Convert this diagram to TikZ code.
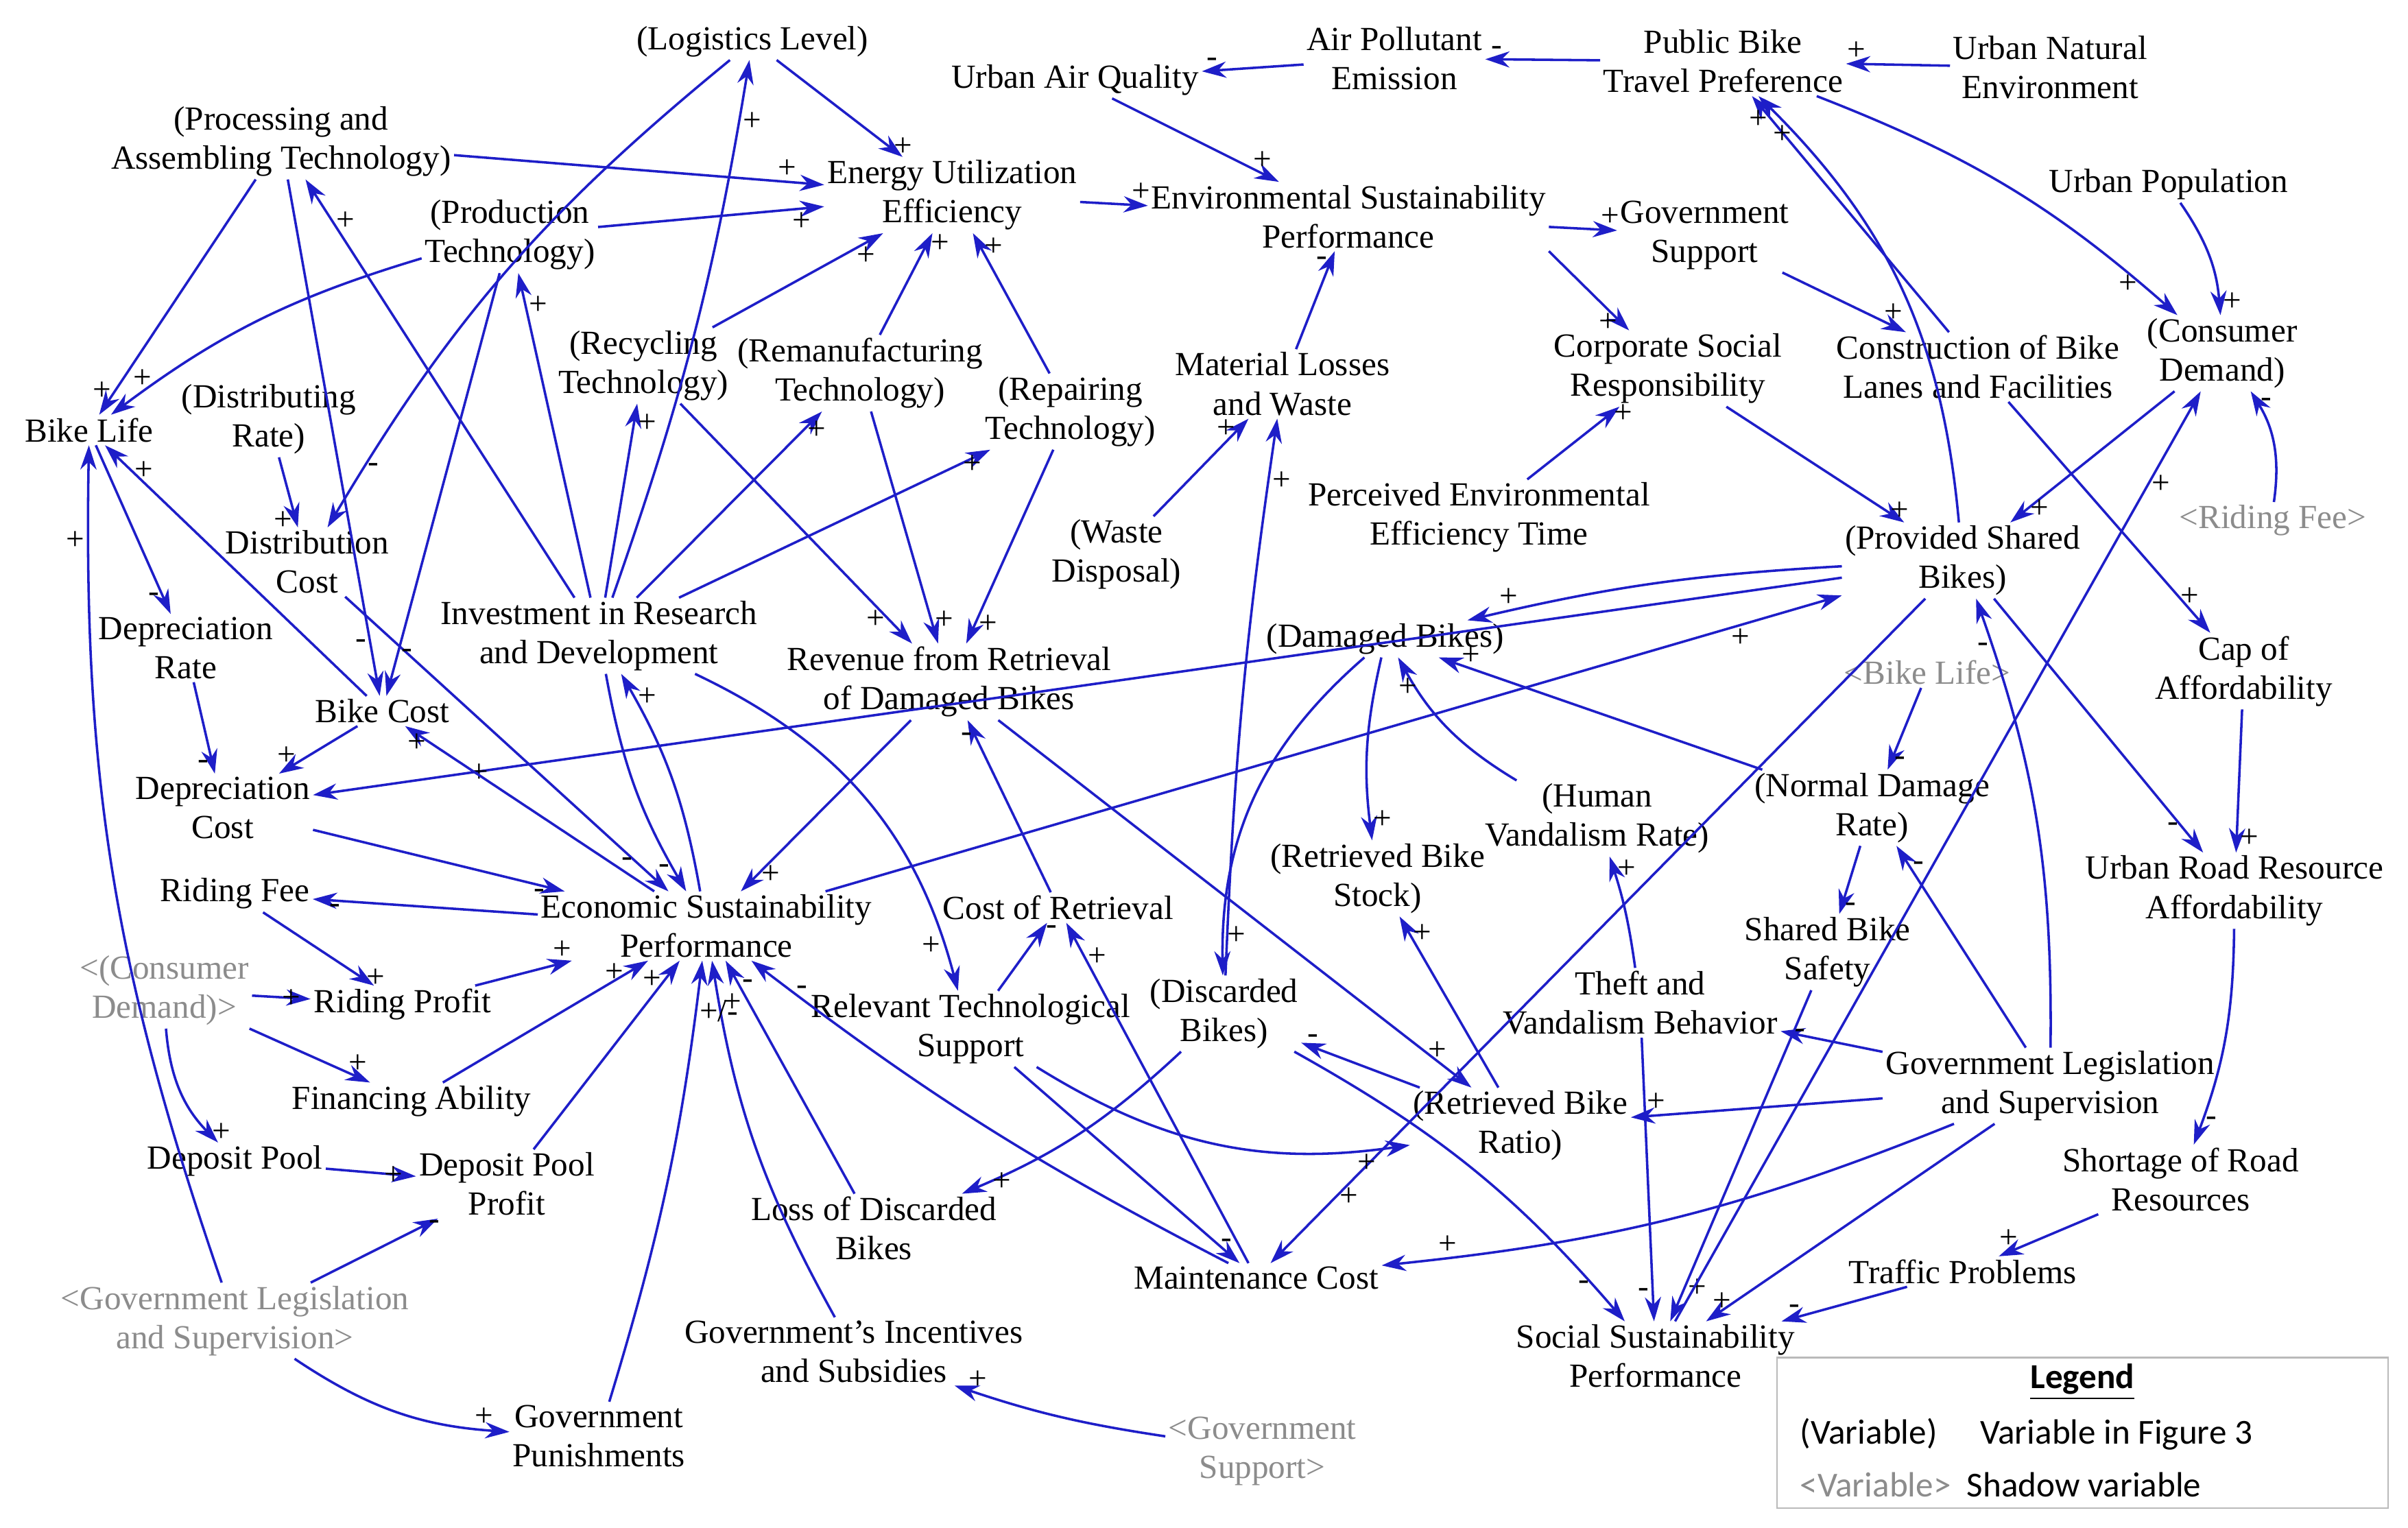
\documentclass[tikz,border=0pt]{standalone}
\usepackage{fontspec}
\setmainfont{Liberation Serif}
\newfontfamily\legf{Carlito}
\usetikzlibrary{arrows.meta}
\definecolor{ab}{RGB}{30,30,200}
\definecolor{sh}{RGB}{140,140,140}
\begin{document}
\begin{tikzpicture}[x=0.2mm,y=-0.2mm,
 v/.style={align=center,font=\fontsize{12.5}{14.5}\selectfont,inner sep=1pt},
 s/.style={v,text=sh},
 a/.style={draw=ab,line width=0.9pt,-{Stealth[length=9pt,width=6pt]}},
 sg/.style={font=\fontsize{12}{12}\selectfont,inner sep=1pt,pos=.9}]
\useasboundingbox (0,0) rectangle (1568,995);
\fill[white] (0,0) rectangle (1568,995);
% nodes
\node[v] (LL) at (490,27) {(Logistics Level)};
\node[v] (PAT) at (183,92) {(Processing and\\Assembling Technology)};
\node[v] (EUE) at (620,127) {Energy Utilization\\Efficiency};
\node[v] (UAQ) at (700,52) {Urban Air Quality};
\node[v] (APE) at (908,38) {Air Pollutant\\Emission};
\node[v] (PBTP) at (1122,40) {Public Bike\\Travel Preference};
\node[v] (UNE) at (1335,44) {Urban Natural\\Environment};
\node[v] (ESP) at (878,141) {Environmental Sustainability\\Performance};
\node[v] (GS) at (1110,153) {Government\\Support};
\node[v] (UP) at (1412,120) {Urban Population};
\node[v] (PT) at (332,153) {(Production\\Technology)};
\node[v] (CD) at (1447,230) {(Consumer\\Demand)};
\node[v] (CBLF) at (1288,239) {Construction of Bike\\Lanes and Facilities};
\node[v] (CSR) at (1086,240) {Corporate Social\\Responsibility};
\node[v] (MLW) at (835,250) {Material Losses\\and Waste};
\node[v] (RT) at (419,238) {(Recycling\\Technology)};
\node[v] (RMT) at (560,243) {(Remanufacturing\\Technology)};
\node[v] (RPT) at (697,268) {(Repairing\\Technology)};
\node[v] (BL) at (58,280) {Bike Life};
\node[v] (DR) at (175,273) {(Distributing\\Rate)};
\node[v] (DC) at (200,366) {Distribution\\Cost};
\node[v] (PEET) at (963,337) {Perceived Environmental\\Efficiency Time};
\node[s] (RFs) at (1480,339) {<Riding Fee>};
\node[v] (PSB) at (1278,365) {(Provided Shared\\Bikes)};
\node[v] (WD) at (727,361) {(Waste\\Disposal)};
\node[v] (DepR) at (121,422) {Depreciation\\Rate};
\node[v] (IRD) at (390,414) {Investment in Research\\and Development};
\node[v] (RRDB) at (618,444) {Revenue from Retrieval\\of Damaged Bikes};
\node[v] (DB) at (902,416) {(Damaged Bikes)};
\node[s] (BLs) at (1255,438) {<Bike Life>};
\node[v] (CoA) at (1461,437) {Cap of\\Affordability};
\node[v] (BC) at (249,463) {Bike Cost};
\node[v] (DepC) at (145,526) {Depreciation\\Cost};
\node[v] (HVR) at (1040,533) {(Human\\Vandalism Rate)};
\node[v] (NDR) at (1219,526) {(Normal Damage\\Rate)};
\node[v] (RBS) at (897,572) {(Retrieved Bike\\Stock)};
\node[v] (URRA) at (1455,580) {Urban Road Resource\\Affordability};
\node[v] (RidF) at (153,582) {Riding Fee};
\node[v] (ESuP) at (460,603) {Economic Sustainability\\Performance};
\node[v] (CR) at (689,591) {Cost of Retrieval};
\node[v] (SBS) at (1190,620) {Shared Bike\\Safety};
\node[s] (CDs) at (107,645) {<(Consumer\\Demand)>};
\node[v] (RP) at (262,654) {Riding Profit};
\node[v] (RTS) at (632,670) {Relevant Technological\\Support};
\node[v] (DiB) at (797,660) {(Discarded\\Bikes)};
\node[v] (TVB) at (1068,653) {Theft and\\Vandalism Behavior};
\node[v] (GLS) at (1335,707) {Government Legislation\\and Supervision};
\node[v] (FA) at (268,717) {Financing Ability};
\node[v] (RBR) at (990,733) {(Retrieved Bike\\Ratio)};
\node[v] (DP) at (153,756) {Deposit Pool};
\node[v] (DPP) at (330,771) {Deposit Pool\\Profit};
\node[v] (SRR) at (1420,768) {Shortage of Road\\Resources};
\node[v] (LDB) at (569,800) {Loss of Discarded\\Bikes};
\node[v] (MC) at (818,832) {Maintenance Cost};
\node[v] (TP) at (1278,828) {Traffic Problems};
\node[s] (GLSs) at (153,860) {<Government Legislation\\and Supervision>};
\node[v] (GIS) at (556,880) {Government's Incentives\\and Subsidies};
\node[v] (SSP) at (1078,883) {Social Sustainability\\Performance};
\node[v] (GP) at (390,935) {Government\\Punishments};
\node[s] (GSs) at (822,945) {<Government\\Support>};
% legend
\draw[sh!60,line width=0.6pt] (1157,884) rectangle (1555,982);
\node[font=\legf\fontsize{13}{15}\selectfont\bfseries] (LG) at (1356,900) {\underline{Legend}};
\node[font=\legf\fontsize{13}{15}\selectfont,anchor=west] (L1) at (1166,934) {(Variable)\quad\ Variable in Figure 3};
\node[font=\legf\fontsize{13}{15}\selectfont,anchor=west] (L2) at (1166,967) {\textcolor{sh}{<Variable>}\ \ Shadow variable};
% edges
\draw[a] (APE) to node[sg,above]{-} (UAQ);
\draw[a] (PBTP) to node[sg,above]{-} (APE);
\draw[a] (UNE) to node[sg,above]{+} (PBTP);
\draw[a] (UAQ) to node[sg,above]{+} (ESP);
\draw[a] (LL) to node[sg,right]{+} (EUE);
\draw[a] (PAT) to node[sg,above]{+} (EUE);
\draw[a] (PT) to node[sg,below]{+} (EUE);
\draw[a] (RT) to node[sg,below]{+} (EUE);
\draw[a] (RMT) to node[sg,right]{+} (EUE);
\draw[a] (RPT) to node[sg,right]{+} (EUE);
\draw[a] (EUE) to node[sg,above]{+} (ESP);
\draw[a] (ESP) to node[sg,above]{+} (GS);
\draw[a] (ESP.south east) to node[sg,left]{+} (CSR);
\draw[a] (MLW) to node[sg,left]{-} (ESP);
\draw[a] (WD) to node[sg,left]{+} (MLW);
\draw[a] (DiB) to[bend left=3] node[sg,right]{+} (MLW);
\draw[a] (PEET) to node[sg,right]{+} (CSR);
\draw[a] (GS) to node[sg,above]{+} (CBLF);
\draw[a] (CBLF) to node[sg,left]{+} (PBTP);
\draw[a] (PSB) to[bend right=20] node[sg,left]{+} (PBTP);
\draw[a] (PBTP) to[bend left=10] node[sg,left]{+} (CD);
\draw[a] (UP) to[bend left=15] node[sg,right]{+} (CD);
\draw[a] (RFs) to[bend right=20] node[sg,right]{-} (CD);
\draw[a] (CD) to node[sg,right]{+} (PSB);
\draw[a] (CSR) to node[sg,right]{+} (PSB);
\draw[a] (CBLF) to node[sg,above]{+} (CoA);
\draw[a] (CoA) to node[sg,right]{+} (URRA);
\draw[a] (PSB) to node[sg,left]{-} (URRA);
\draw[a] (URRA) to[bend left=10] node[sg,right]{-} (SRR);
\draw[a] (SRR) to node[sg,above]{+} (TP);
\draw[a] (TP) to node[sg,above]{-} (SSP);
\draw[a] (PSB) to[bend right=5] node[sg,above]{+} (DB);
\draw[a] (PSB) to node[sg,right]{+} (DepC);
\draw[a] (ESuP) to node[sg,below]{+} (PSB);
\draw[a] (PSB) to node[sg,right]{+} (MC);
\draw[a] (BLs) to node[sg,right]{-} (NDR);
\draw[a] (NDR) to node[sg,right]{-} (SBS);
\draw[a] (NDR) to node[sg,above]{+} (DB);
\draw[a] (HVR) to[bend left=15] node[sg,below]{+} (DB);
\draw[a] (DB) to[bend right=10] node[sg,right]{+} (RBS);
\draw[a] (DB) to[bend right=25] node[sg,right]{+} (DiB);
\draw[a] (RBR) to node[sg,right]{+} (RBS);
\draw[a] (RBR) to node[sg,above]{-} (DiB);
\draw[a] (RRDB) to node[sg,right]{+} (RBR);
\draw[a] (GLS) to node[sg,above]{+} (RBR);
\draw[a] (GLS) to node[sg,right]{-} (TVB);
\draw[a] (GLS) to node[sg,right]{-} (NDR);
\draw[a] (GLS) to[bend right=10] node[sg,left]{-} (PSB);
\draw[a] (GLS) to node[sg,left]{+} (SSP);
\draw[a] (GLS) to[bend left=8] node[sg,above]{+} (MC);
\draw[a] (TVB) to[bend right=5] node[sg,right]{+} (HVR);
\draw[a] (TVB) to node[sg,left]{-} (SSP);
\draw[a] (SBS) to node[sg,right]{+} (SSP);
\draw[a] (DiB) to[bend left=10] node[sg,left]{-} (SSP);
\draw[a] (SSP) to node[sg,right]{+} (CD);
\draw[a] (RTS) to[bend right=20] node[sg,below]{+} (RBR);
\draw[a] (RTS) to node[sg,right]{-} (MC);
\draw[a] (RTS) to node[sg,right]{-} (CR);
\draw[a] (CR) to node[sg,left]{-} (RRDB);
\draw[a] (MC) to node[sg,right]{+} (CR);
\draw[a] (MC) to[bend left=5] node[sg,above]{-} (ESuP);
\draw[a] (IRD) to[bend left=25] node[sg,left]{+} (RTS);
\draw[a] (RRDB) to node[sg,right]{+} (ESuP);
\draw[a] (RT) to node[sg,left]{+} (RRDB);
\draw[a] (RMT) to node[sg,right]{+} (RRDB);
\draw[a] (RPT) to node[sg,right]{+} (RRDB);
\draw[a] (IRD) to[bend right=5] node[sg,right]{+} (LL);
\draw[a] (IRD) to node[sg,right]{+} (PT);
\draw[a] (IRD) to node[sg,right]{+} (RT);
\draw[a] (IRD) to node[sg,right]{+} (RMT);
\draw[a] (IRD) to node[sg,right]{+} (RPT);
\draw[a] (IRD) to node[sg,right]{+} (PAT);
\draw[a] (IRD) to[bend right=10] node[sg,left]{-} (ESuP);
\draw[a] (ESuP) to[bend right=10] node[sg,right]{+} (IRD);
\draw[a] (DiB) to[bend left=10] node[sg,right]{+} (LDB);
\draw[a] (LDB) to node[sg,right]{-} (ESuP);
\draw[a] (GIS) to[bend left=10] node[sg,right]{+} (ESuP);
\draw[a] (GSs) to[bend left=5] node[sg,above]{+} (GIS);
\draw[a] (GP) to[bend right=5] node[sg,right]{+/-} (ESuP);
\draw[a] (GLSs) to[bend right=15] node[sg,above]{+} (GP);
\draw[a] (GLSs) to node[sg,right]{-} (DPP);
\draw[a] (GLSs) to[bend left=10] node[sg,left]{+} (BL);
\draw[a] (DPP) to node[sg,left]{+} (ESuP);
\draw[a] (DP) to node[sg,left]{+} (DPP);
\draw[a] (CDs) to[bend right=20] node[sg,right]{+} (DP);
\draw[a] (CDs) to node[sg,above]{+} (FA);
\draw[a] (CDs) to node[sg,left]{+} (RP);
\draw[a] (RidF) to node[sg,right]{+} (RP);
\draw[a] (FA) to node[sg,left]{+} (ESuP);
\draw[a] (RP) to node[sg,above]{+} (ESuP);
\draw[a] (ESuP) to node[sg,below]{-} (RidF);
\draw[a] (DepC) to node[sg,below]{-} (ESuP);
\draw[a] (ESuP) to node[sg,left]{+} (BC);
\draw[a] (BC) to node[sg,above]{+} (DepC);
\draw[a] (DepR) to node[sg,left]{-} (DepC);
\draw[a] (BL) to node[sg,left]{-} (DepR);
\draw[a] (BC) to node[sg,right]{+} (BL);
\draw[a] (PT) to[bend right=10] node[sg,above]{+} (BL);
\draw[a] (PAT) to node[sg,left]{+} (BL);
\draw[a] (LL) to[bend right=10] node[sg,right]{-} (DC);
\draw[a] (DR) to node[sg,left]{+} (DC);
\draw[a] (DC) to node[sg,left]{-} (ESuP);
\draw[a] (PT) to node[sg,right]{-} (BC);
\draw[a] (PAT) to node[sg,left]{-} (BC);
\end{tikzpicture}
\end{document}
